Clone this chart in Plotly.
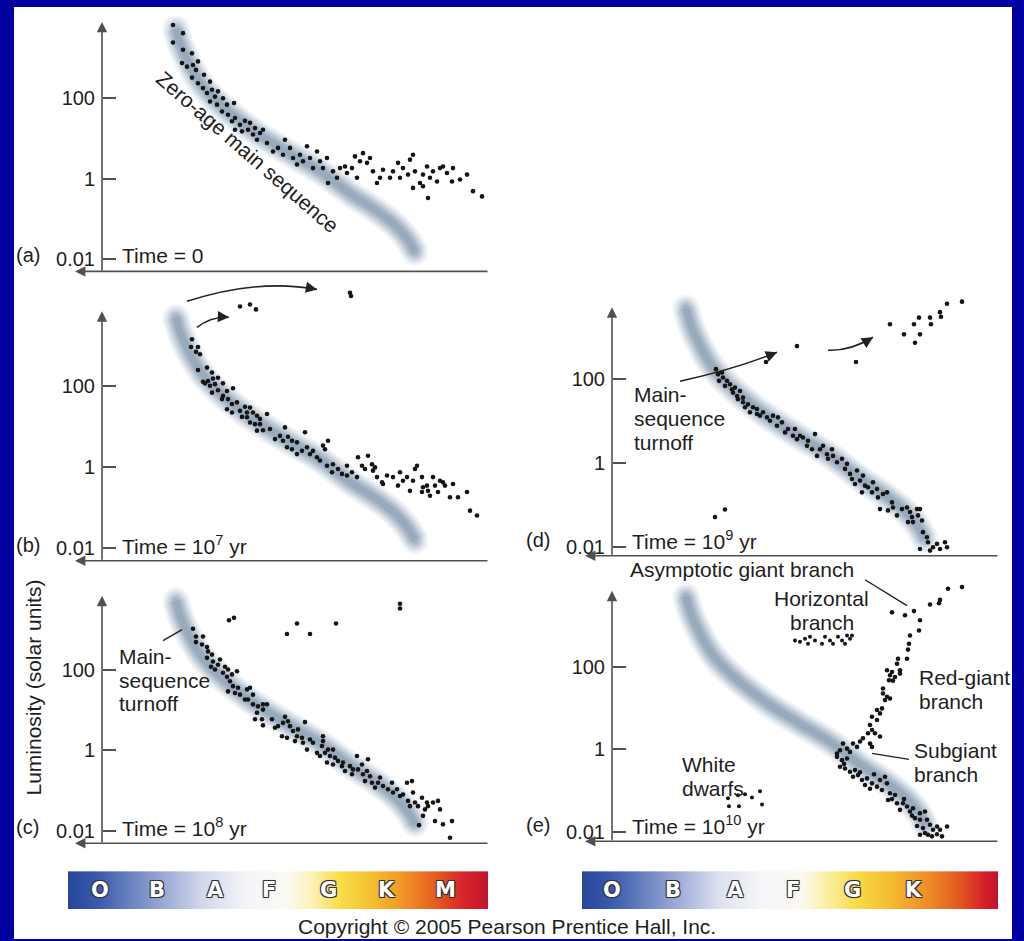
import numpy as np
import plotly.graph_objects as go

W, H = 1024, 941
def PX(px): return px / W
def PY(py): return 1 - py / H

# ---------------- data (x = position along spectral sequence, logL = log10 luminosity) ----
band_x    = [74, 78, 84, 92, 102, 114, 130, 155, 185, 218, 250, 276, 295, 306, 313]
band_logL = [3.70, 3.35, 3.00, 2.62, 2.25, 1.93, 1.58, 1.12, 0.66, 0.18, -0.40, -0.82, -1.20, -1.52, -1.82]

a_stars = [(71,3.80),(81,3.60),(71,3.37),(81,3.19),(90,3.10),(80,2.86),(85,2.77),(91,2.81),(94,2.69),(96,2.90),
           (90,2.50),(102,2.57),(96,2.36),(108,2.40),(101,2.24),(105,2.12),(110,2.20),(113,2.03),(116,2.16),(121,1.99),
           (108,1.91),(115,1.83),(125,1.83),(132,1.87),(120,1.66),(126,1.58),(130,1.42),(133,1.50),(138,1.33),(143,1.43),
           (148,1.38),(153,1.25),(158,1.13),(133,1.21),(140,1.17),(146,1.21),(151,1.09),(161,1.21),(155,0.96),(165,0.88),
           (171,0.67),(176,0.76),(183,0.96),(181,0.59),(188,0.76),(191,0.51),(195,0.35),(198,0.59),(205,0.80),(201,0.43),
           (208,0.51),(211,0.26),(215,0.67),(218,0.43),(221,0.26),(225,0.51),(226,-0.11),(231,0.18),(235,0.02),(238,0.26),
           (243,0.30),(245,0.14),(250,0.26),(255,0.02),(253,0.55),(258,0.43),(261,0.63),(265,0.39),(268,0.51),(271,0.18),
           (275,-0.11),(278,0.02),(281,0.22),(288,0.02),(291,0.18),(296,0.39),(298,0.02),(301,0.26),(306,0.10),(308,0.47),
           (311,0.59),(313,0.18),(318,-0.11),(321,0.10),(325,0.30),(328,0.02),(331,0.18),(335,-0.07),(338,0.26),(341,0.30),
           (345,0.14),(350,-0.07),(351,0.26),(358,-0.02),(365,0.10),(311,-0.23),(321,-0.19),(326,-0.48),(371,-0.31),(380,-0.44)]

b_evolved = [(138,3.97),(148,4.02),(154,3.90),(248,4.31),(249,4.23)]
b_stars = [(90,3.16),(89,2.97),(96,2.97),(94,2.85),(98,2.79),(96,2.40),(105,2.46),(110,2.34),(101,2.11),(106,2.13),
           (111,2.19),(116,2.21),(108,2.01),(103,2.07),(110,1.84),(113,2.05),(116,1.90),(121,2.07),(121,1.76),(125,1.88),
           (131,1.95),(120,1.68),(126,1.68),(130,1.56),(135,1.60),(125,1.43),(130,1.35),(138,1.39),(143,1.49),(145,1.35),
           (148,1.47),(140,1.24),(145,1.23),(151,1.35),(155,1.27),(158,1.19),(165,1.31),(153,1.06),(158,1.06),(148,1.10),
           (161,0.91),(168,0.94),(155,0.90),(173,0.69),(178,0.77),(183,0.98),(181,0.65),(186,0.75),(190,0.65),(195,0.61),
           (185,0.49),(190,0.44),(195,0.32),(200,0.40),(203,0.86),(205,0.49),(208,0.32),(211,0.40),(215,0.24),(218,0.16),
           (221,0.53),(223,0.44),(226,0.65),(225,0.03),(231,0.07),(230,-0.13),(236,-0.05),(240,-0.17),(245,0.03),(245,-0.21),
           (250,-0.13),(255,-0.25),(256,0.24),(260,0.03),(263,-0.05),(266,0.28),(270,0.07),(271,-0.09),(273,-0.01),(275,-0.25),
           (280,-0.38),(281,-0.42),(285,-0.21),(291,-0.25),(296,-0.46),(298,-0.13),(301,-0.34),(305,-0.25),(308,-0.59),(311,-0.34),
           (313,-0.05),(315,0.03),(320,-0.25),(321,-0.50),(320,-0.62),(325,-0.46),(326,-0.59),(328,-0.71),(331,-0.25),(333,-0.46),
           (336,-0.62),(338,-0.34),(341,-0.38),(343,-0.46),(348,-0.75),(351,-0.42),(356,-0.75),(365,-0.62),(368,-1.08),(375,-1.20)]

c_evolved = [(127,3.22),(132,3.28),(185,2.88),(195,3.14),(208,2.88),(234,3.14),(298,3.63),(298,3.51)]
c_stars = [(91,3.01),(94,2.82),(94,2.68),(101,2.82),(100,2.62),(105,2.56),(106,2.45),(105,2.29),(110,2.37),(111,2.20),
           (109,2.07),(113,2.00),(116,2.12),(118,2.25),(123,2.07),(126,2.00),(121,1.92),(125,1.82),(130,1.88),(135,1.96),
           (128,1.71),(131,1.59),(136,1.55),(126,1.46),(133,1.42),(138,1.38),(145,1.51),(148,1.55),(143,1.26),(146,1.26),
           (151,1.38),(151,1.14),(156,1.09),(161,1.14),(165,1.14),(155,0.93),(161,1.01),(153,0.77),(160,0.77),(161,0.62),
           (170,0.77),(173,0.56),(176,0.60),(181,0.68),(183,0.83),(186,0.72),(188,0.60),(180,0.35),(185,0.31),(191,0.48),
           (195,0.35),(196,0.52),(193,0.23),(200,0.31),(203,0.70),(201,0.19),(205,0.02),(208,0.27),(211,0.19),(215,-0.06),
           (220,0.11),(221,0.35),(221,0.23),(218,-0.14),(223,-0.06),(226,0.02),(231,0.02),(228,-0.14),(233,-0.18),(225,-0.30),
           (231,-0.35),(236,-0.26),(240,-0.39),(241,-0.30),(243,-0.51),(248,-0.39),(250,-0.59),(251,-0.47),(255,-0.14),(256,-0.47),
           (260,-0.35),(261,-0.59),(265,-0.51),(266,-0.22),(268,-0.64),(263,-0.76),(270,-0.80),(273,-0.92),(276,-0.80),(278,-0.67),
           (281,-0.88),(286,-0.96),(290,-0.80),(291,-1.04),(295,-0.96),(298,-1.13),(301,-1.09),(305,-0.80),(310,-0.76),(306,-1.25),
           (308,-1.38),(311,-1.04),(313,-1.29),(316,-1.38),(320,-1.17),(323,-1.46),(325,-1.29),(321,-1.62),(326,-1.38),(331,-1.29),
           (336,-1.25),(338,-1.46),(333,-1.75),(341,-1.83),(350,-1.75),(317,-1.85),(348,-2.16)]

d_evolved = [(154,2.41),(185,2.79),(244,2.41),(278,3.31),(292,3.07),(302,3.31),(303,2.87),(307,3.47),(308,3.07),(318,3.47),
             (319,3.31),(328,3.60),(329,3.49),(335,3.80),(350,3.85)]
d_dwarfs = [(103,-1.29),(113,-1.11)]
d_stars = [(104,2.24),(106,2.12),(110,2.16),(111,2.04),(115,1.96),(107,1.96),(113,1.84),(118,1.88),(120,1.76),(123,1.80),
           (121,1.68),(125,1.60),(128,1.72),(126,1.52),(131,1.45),(133,1.33),(131,1.56),(136,1.40),(141,1.33),(145,1.29),
           (138,1.21),(145,1.17),(148,1.13),(151,1.21),(155,1.09),(158,1.01),(161,1.13),(165,0.89),(166,1.09),(170,0.97),
           (173,0.73),(176,0.81),(181,0.65),(185,0.57),(183,0.81),(188,0.65),(191,0.61),(195,0.41),(196,0.53),(200,0.33),
           (203,0.69),(205,0.17),(208,0.33),(211,0.41),(215,0.21),(216,0.10),(220,0.33),(221,0.17),(225,0.02),(230,0.10),
           (233,-0.14),(235,-0.02),(238,-0.26),(240,-0.38),(243,-0.50),(245,-0.18),(248,-0.42),(251,-0.30),(253,-0.54),(250,-0.70),
           (256,-0.58),(260,-0.70),(261,-0.46),(265,-0.62),(266,-0.82),(271,-0.74),(275,-0.70),(276,-1.13),(268,-1.10),(280,-0.94),
           (281,-1.06),(285,-1.25),(290,-1.10),(295,-1.06),(298,-1.17),(300,-1.29),(301,-1.41),(305,-1.10),(308,-1.10),(306,-1.25),
           (296,-1.41),(310,-1.37),(311,-1.65),(315,-1.77),(316,-1.89),(321,-2.01),(308,-2.05),(318,-2.09),(325,-1.93),(328,-2.05),
           (333,-1.89),(335,-2.01),(313,-2.28)]

e_giants = [(336,3.88),(350,3.92),(318,3.50),(328,3.61),(327,3.53),(280,3.31),(293,3.24),(302,3.34),(308,3.12),(307,2.87),
            (298,2.75),(297,2.55),(296,2.41),(295,2.19),(286,2.19),(285,2.07),(275,1.91),(280,1.87),(288,1.91),(278,1.79),
            (283,1.75),(288,1.83),(277,1.67),(281,1.66),(271,1.47),(271,1.35),(275,1.27),(273,1.19),(278,1.23),(270,0.99),
            (268,0.87),(265,0.95),(260,0.79),(265,0.71),(258,0.59),(260,0.47),(263,0.39),(256,0.39),(268,0.31),(251,0.27),
            (248,0.19),(258,0.14),(260,0.06),(245,0.06),(241,0.14),(235,0.02),(238,-0.06),(231,0.14),(228,-0.02),(225,-0.10)]
e_horizontal = [(183,2.63),(188,2.60),(193,2.67),(198,2.72),(196,2.55),(203,2.63),(210,2.55),(213,2.72),(218,2.63),(221,2.55),
                (226,2.72),(230,2.63),(233,2.55),(238,2.67),(240,2.75),(235,2.75)]
e_ms = [(225,-0.18),(230,-0.26),(235,-0.22),(228,-0.42),(233,-0.46),(238,-0.54),(243,-0.50),(246,-0.62),(241,-0.66),(250,-0.74),
        (255,-0.70),(260,-0.82),(253,-0.86),(265,-0.90),(268,-0.74),(273,-0.66),(275,-0.82),(270,-0.98),(278,-1.06),(283,-1.10),
        (276,-1.22),(285,-1.30),(291,-1.30),(295,-1.38),(288,-1.46),(298,-1.50),(301,-1.42),(308,-1.54),(313,-1.50),(303,-1.66),
        (308,-1.70),(315,-1.70),(318,-1.82),(311,-1.90),(321,-1.94),(325,-1.86),(328,-1.94),(335,-1.86),(313,-2.02),(316,-2.06),
        (308,-2.06),(232,-0.35),(248,-0.55),(258,-0.95),(262,-0.60),(280,-1.20),(292,-1.20),(300,-1.60),(305,-1.85),(320,-2.10),
        (325,-2.05),(330,-2.10)]
e_white_dwarfs = [(116,-1.18),(126,-1.11),(133,-1.08),(140,-1.16),(148,-1.01),(150,-1.33),(117,-1.37),(127,-1.37)]

tick_vals = [0.01, 1, 100]
tick_text = ["0.01", "1", "100"]
spectral_left = ["O", "B", "A", "F", "G", "K", "M"]
spectral_right = ["O", "B", "A", "F", "G", "K"]

# ---------------- layout geometry (pixels) ----------------
panels = {
    "a": dict(n=1, xl=75,  xr=489, yax=102, top=10,  bottom=272, arrow_top=22,  y100=98,  dec=40.5,
              label="(a)", time="Time = 0"),
    "b": dict(n=2, xl=75,  xr=489, yax=102, top=284, bottom=562, arrow_top=312, y100=387, dec=40.5,
              label="(b)", time="Time = 10<sup>7</sup> yr"),
    "c": dict(n=3, xl=75,  xr=489, yax=102, top=578, bottom=845, arrow_top=597, y100=671, dec=40.5,
              label="(c)", time="Time = 10<sup>8</sup> yr"),
    "d": dict(n=4, xl=585, xr=999, yax=612, top=288, bottom=557, arrow_top=308, y100=380, dec=42.0,
              label="(d)", time="Time = 10<sup>9</sup> yr"),
    "e": dict(n=5, xl=585, xr=999, yax=612, top=574, bottom=843, arrow_top=592, y100=668, dec=41.5,
              label="(e)", time="Time = 10<sup>10</sup> yr"),
}
AX = "#505050"
TXT = "#1e1e1e"
FONT = "Liberation Sans, Arial, sans-serif"

fig = go.Figure()
layout = dict(width=W, height=H, margin=dict(l=0, r=0, t=0, b=0), autosize=False,
              paper_bgcolor="#0000a0", plot_bgcolor="rgba(0,0,0,0)", showlegend=False,
              font=dict(family=FONT, color=TXT, size=20))
annotations, shapes = [], []
shapes.append(dict(type="rect", xref="paper", yref="paper", x0=PX(14), x1=PX(1012), y0=PY(941), y1=PY(7),
                   fillcolor="white", line=dict(width=0), layer="below"))

def L(vals):
    return [10 ** v for v in vals]

band_layers = [(27, "#e3e9ef", 0.6), (22, "#cbd5df", 0.6), (17, "#b3c0cf", 0.6), (12, "#9cadc0", 0.6), (7, "#8b9db2", 0.5)]

def add_points(p, pts, size=4.6):
    xs = [q[0] for q in pts]
    ys = L([q[1] for q in pts])
    fig.add_trace(go.Scatter(x=xs, y=ys, mode="markers", xaxis=p["xa"], yaxis=p["ya"],
                             marker=dict(size=size, color="#151515", line=dict(width=0)),
                             cliponaxis=False, hoverinfo="skip"))

for key, p in panels.items():
    n = p["n"]
    sfx = "" if n == 1 else str(n)
    p["xa"], p["ya"] = "x" + sfx, "y" + sfx
    xr = [p["xl"] - p["yax"], p["xr"] - p["yax"]]
    yr = [2 - (p["bottom"] - p["y100"]) / p["dec"], 2 + (p["y100"] - p["top"]) / p["dec"]]
    layout["xaxis" + sfx] = dict(domain=[PX(p["xl"]), PX(p["xr"])], range=xr, visible=False,
                                 anchor=p["ya"], fixedrange=True)
    layout["yaxis" + sfx] = dict(domain=[PY(p["bottom"]), PY(p["top"])], range=yr, type="log",
                                 anchor="free", position=PX(p["yax"]), side="left",
                                 showgrid=False, zeroline=False, showline=False,
                                 ticks="inside", ticklen=13, tickwidth=1.6, tickcolor=AX,
                                 tickvals=tick_vals, ticktext=tick_text, ticklabelstandoff=7,
                                 tickfont=dict(size=20, color=TXT, family=FONT), fixedrange=True)
    # zero-age main sequence band (soft, layered)
    for w, col, op in band_layers:
        fig.add_trace(go.Scatter(x=band_x, y=L(band_logL), mode="lines+markers", xaxis=p["xa"], yaxis=p["ya"],
                                 line=dict(color=col, width=w, shape="spline", smoothing=1.0),
                                 marker=dict(size=[w] + [0] * (len(band_x) - 2) + [w], color=col, line=dict(width=0)),
                                 opacity=op, hoverinfo="skip"))
    # axes with arrowheads
    annotations.append(dict(xref="paper", yref="paper", x=PX(p["yax"]), y=PY(p["arrow_top"]), text="",
                            showarrow=True, ax=0, ay=p["bottom"] - p["arrow_top"], axref="pixel", ayref="pixel",
                            arrowhead=2, arrowsize=1.3, arrowwidth=1.6, arrowcolor=AX, standoff=0))
    annotations.append(dict(xref="paper", yref="paper", x=PX(p["xl"]), y=PY(p["bottom"]), text="",
                            showarrow=True, ax=p["xr"] - p["xl"], ay=0, axref="pixel", ayref="pixel",
                            arrowhead=2, arrowsize=1.3, arrowwidth=1.6, arrowcolor=AX, standoff=0))
    # panel letter and time label
    bl = p["bottom"] - 16
    annotations.append(dict(xref="paper", yref="paper", x=PX(p["xl"] - 61), y=PY(bl), text=p["label"],
                            showarrow=False, xanchor="left", yanchor="middle", font=dict(size=20)))
    annotations.append(dict(xref="paper", yref="paper", x=PX(p["yax"] + 18), y=PY(bl), text=p["time"],
                            showarrow=False, xanchor="left", yanchor="middle", font=dict(size=21)))

add_points(panels["a"], a_stars)
add_points(panels["b"], b_stars)
add_points(panels["b"], b_evolved)
add_points(panels["c"], c_stars)
add_points(panels["c"], c_evolved)
add_points(panels["d"], d_stars)
add_points(panels["d"], d_evolved)
add_points(panels["d"], d_dwarfs)
add_points(panels["e"], e_ms)
add_points(panels["e"], e_giants)
add_points(panels["e"], e_horizontal, size=4.0)
add_points(panels["e"], e_white_dwarfs, size=4.0)

def label(px, py, text, size=21, xanchor="left", angle=0):
    annotations.append(dict(xref="paper", yref="paper", x=PX(px), y=PY(py), text=text, showarrow=False,
                            xanchor=xanchor, yanchor="middle", textangle=angle, font=dict(size=size)))

def line(p0, p1, w=1.4):
    shapes.append(dict(type="line", xref="paper", yref="paper", x0=PX(p0[0]), y0=PY(p0[1]),
                       x1=PX(p1[0]), y1=PY(p1[1]), line=dict(color="#222", width=w)))

def curved_arrow(p0, c, p1):
    shapes.append(dict(type="path", xref="paper", yref="paper",
                       path=f"M {PX(p0[0])},{PY(p0[1])} Q {PX(c[0])},{PY(c[1])} {PX(p1[0])},{PY(p1[1])}",
                       line=dict(color="#222", width=1.6)))
    dx, dy = p1[0] - c[0], p1[1] - c[1]
    nrm = (dx * dx + dy * dy) ** 0.5
    annotations.append(dict(xref="paper", yref="paper", x=PX(p1[0]), y=PY(p1[1]), text="", showarrow=True,
                            ax=-9 * dx / nrm, ay=-9 * dy / nrm, axref="pixel", ayref="pixel",
                            arrowhead=2, arrowsize=1.4, arrowwidth=1.6, arrowcolor="#222", standoff=0))

# panel (a)
label(247, 152, "Zero-age main sequence", size=21, xanchor="center", angle=41)
# panel (b) arrows
curved_arrow((187, 302), (258, 279), (317, 290))
curved_arrow((197, 328), (211, 317), (229, 318))
# panel (c)
label(117, 658, "Main-"); label(117, 682, "sequence"); label(117, 705, "turnoff")
line((163, 642), (182, 631))
# panel (d)
label(632, 395, "Main-"); label(632, 419, "sequence"); label(632, 443, "turnoff")
curved_arrow((680, 382), (735, 370), (777, 353))
curved_arrow((828, 351), (850, 352), (873, 338))
# panel (e)
label(742, 571, "Asymptotic giant branch", xanchor="center")
line((865, 581), (907, 607))
label(821, 600, "Horizontal", xanchor="center")
label(822, 624, "branch", xanchor="center")
label(917, 679, "Red-giant"); label(917, 703, "branch")
label(912, 752, "Subgiant"); label(912, 776, "branch")
line((872, 755), (909, 761))
label(680, 766, "White"); label(680, 790, "dwarfs")
# y title
label(34, 689, "Luminosity (solar units)", size=21, xanchor="center", angle=-90)
# copyright
label(507, 928, "Copyright © 2005 Pearson Prentice Hall, Inc.", size=21, xanchor="center")

# ---------------- spectral-class colour bars ----------------
left_scale = [[0.00, "#27479a"], [0.07, "#3a5cad"], [0.20, "#8c9dcf"], [0.32, "#d2d8ec"], [0.42, "#f3f4f8"],
              [0.52, "#fbfaf4"], [0.58, "#fcf1b8"], [0.64, "#f9e04e"], [0.71, "#f5c531"], [0.79, "#f19a28"],
              [0.87, "#e86020"], [0.94, "#d8262a"], [1.00, "#c2142e"]]
right_scale = [[0.00, "#27479a"], [0.07, "#3a5cad"], [0.20, "#8c9dcf"], [0.33, "#dde1f0"], [0.43, "#f6f6f9"],
               [0.53, "#fbf8ee"], [0.59, "#fbeea2"], [0.66, "#f8db46"], [0.74, "#f4bb30"], [0.83, "#ef8f28"],
               [0.91, "#e2561f"], [0.97, "#d41f2a"], [1.00, "#c2142e"]]
NZ = 200
bars = [("6", 68, 488, left_scale, spectral_left, [100, 157, 215, 269, 328, 386, 445]),
        ("7", 582, 998, right_scale, spectral_right, [612, 673, 735, 793, 852, 913])]
for sfx, x0, x1, scale, letters, lx in bars:
    layout["xaxis" + sfx] = dict(domain=[PX(x0), PX(x1)], range=[-0.5, NZ - 0.5], visible=False,
                                 anchor="y" + sfx, fixedrange=True)
    layout["yaxis" + sfx] = dict(domain=[PY(911), PY(873)], range=[-0.5, 0.5], visible=False,
                                 anchor="x" + sfx, fixedrange=True)
    fig.add_trace(go.Heatmap(z=[list(range(NZ))], xaxis="x" + sfx, yaxis="y" + sfx, colorscale=scale,
                             showscale=False, zsmooth="best", hoverinfo="skip"))
    for letter, px in zip(letters, lx):
        annotations.append(dict(xref="paper", yref="paper", x=PX(px), y=PY(892), text="<b>" + letter + "</b>",
                                showarrow=False, xanchor="center", yanchor="middle",
                                font=dict(size=21, color="white", family="DejaVu Sans, Arial",
                                          shadow="1px 1px 0 #333, -1px -1px 0 #333, 1px -1px 0 #333, -1px 1px 0 #333, 0 0 2px #555")))

layout["annotations"] = annotations
layout["shapes"] = shapes
fig.update_layout(**layout)
fig.write_html("out.html")
